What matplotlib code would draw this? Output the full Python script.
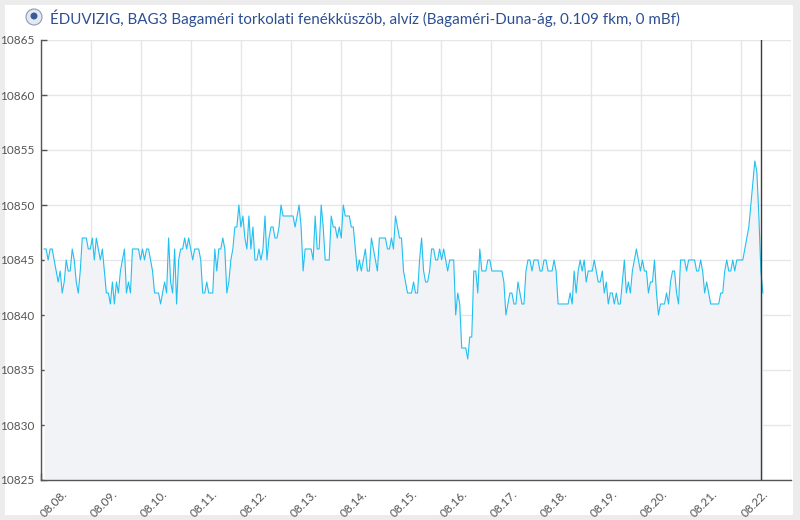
import numpy as np
import pandas as pd
import matplotlib
matplotlib.use("Agg")
import matplotlib.pyplot as plt
from matplotlib.patches import Rectangle, Circle
from matplotlib.transforms import ScaledTranslation

plt.rcParams['font.family'] = ['Lato', 'DejaVu Sans']

# vízállás (cm), kb. óránként, 08.08. 01h -> 08.22. 10h
level = [
    46, 46, 45, 46, 46, 45, 44, 43, 44, 42, 43, 45, 44, 44, 46, 45, 43, 42, 44, 47,
    47, 47, 46, 46, 47, 45, 47, 46, 45, 46, 44, 42, 42, 41, 43, 41, 43, 42, 44, 45,
    46, 42, 43, 42, 46, 46, 46, 46, 45, 46,
    45, 46, 46, 45, 44, 42, 42, 42, 41, 42, 43, 42, 47, 43, 42, 46, 41, 45, 46, 46,
    47, 46, 47, 46, 45, 46, 46, 46, 45, 42, 42, 43, 42, 42, 42, 46, 44, 46, 46, 47,
    46, 42, 43, 45, 46, 48, 48, 50, 48, 49, 47,
    46, 49, 46, 48, 45, 45, 46, 45, 46, 49, 45, 47, 48, 48, 47, 47, 48, 50, 49, 49,
    49, 49, 49, 49, 48, 49, 50, 48, 44, 46, 46, 46, 46, 45, 49, 46, 46, 50, 48, 45,
    45, 45, 49, 48, 48, 47, 48, 47, 50, 49, 49,
    49, 48, 48, 46, 44, 45, 44, 45, 46, 44, 44, 47, 46, 45, 44, 47, 47, 47, 47, 46,
    46, 47, 46, 49, 48, 47, 47, 44, 43, 42, 42, 42, 43, 42, 42, 45, 47, 44, 43, 43,
    44, 46, 46, 45, 45, 46, 45, 46, 45, 44, 45, 45,
    45, 40, 42, 41, 37, 37, 37, 36, 38, 38, 44, 44, 42, 46, 44, 44, 44, 45, 45, 44,
    44, 44, 44, 44, 44, 43, 40, 41, 42, 42, 41, 41, 43, 42, 41, 41, 44, 45, 45, 44,
    45, 45, 45, 44, 44, 45, 45, 44, 44, 44, 45, 44, 41,
    41, 41, 41, 41, 41, 42, 41, 44, 42, 44, 45, 44, 45, 43, 44, 44, 44, 45, 44, 43,
    43, 44, 42, 43, 41, 42, 42, 41, 42, 41, 41, 43, 45, 42, 43, 42, 44, 45, 46, 45,
    44, 45, 44, 44, 42, 43, 43, 45, 42, 40, 41,
    41, 41, 42, 41, 43, 44, 44, 42, 41, 45, 45, 45, 44, 45, 45, 45, 45, 44, 44, 45,
    44, 42, 43, 42, 41, 41, 41, 41, 41, 42, 42, 44, 45, 44, 44, 45, 44, 45, 45, 45,
    45, 46, 47, 48, 50, 52, 54, 53, 49, 44, 42,
]
values = 10800 + np.array(level)
t_start = pd.Timestamp("2023-08-08 01:30")
t_end = pd.Timestamp("2023-08-22 10:30")
times = pd.date_range(t_start, t_end, periods=len(values))
now = pd.Timestamp("2023-08-22 09:30")

days = pd.date_range("2023-08-08", "2023-08-22", freq="D")
day_labels = [d.strftime("%m.%d.") for d in days]
y_ticks = list(range(10825, 10866, 5))

fig = plt.figure(figsize=(8, 5.2), dpi=100, facecolor="#ececec")
fig.patches.append(Rectangle((5 / 800, 5 / 520), 788 / 800, 510 / 520,
                             transform=fig.transFigure, facecolor="white",
                             edgecolor="none", zorder=-5))

ax = fig.add_axes([41 / 800, 40 / 520, 750 / 800, 440 / 520])
ax.set_zorder(2)
ax.set_facecolor("white")

ax.fill_between(times, values, 10825, color="#f2f3f7", lw=0, zorder=1)
ax.plot(times, values, color="#22c0f0", lw=0.8, zorder=3)
ax.axvline(now, color="#3a3a3a", lw=1.0, zorder=4)
ax.axvline(pd.Timestamp("2023-08-23"), color="#e6e6e6", lw=1.0, zorder=0.5)

ax.set_xlim(pd.Timestamp("2023-08-08"), pd.Timestamp("2023-08-23"))
ax.set_ylim(10825, 10865)
ax.set_xticks(days)
ax.set_xticklabels(day_labels)
ax.set_yticks(y_ticks)
ax.grid(True, color="#e6e6e6", lw=1.0, zorder=0.5)
ax.set_axisbelow(True)

for s in ["top", "right"]:
    ax.spines[s].set_visible(False)
for s in ["left", "bottom"]:
    ax.spines[s].set_color("#555555")
    ax.spines[s].set_linewidth(1.0)

ax.tick_params(axis="y", direction="in", length=4, width=1, color="#555555",
               labelcolor="#555555", labelsize=8.5, pad=5)
ax.tick_params(axis="x", direction="in", length=5, width=1, color="#555555",
               labelcolor="#555555", labelsize=8.5, pad=6)
shift = ScaledTranslation(21 / 100, 0, fig.dpi_scale_trans)
for lab in ax.get_xticklabels():
    lab.set_rotation(45)
    lab.set_ha("right")
    lab.set_va("top")
    lab.set_rotation_mode("anchor")
    lab.set_transform(lab.get_transform() + shift)

# logo + cím
px = fig.dpi_scale_trans
fig.patches.append(Circle((34 / 100, (520 - 17) / 100), 8 / 100, transform=px,
                          facecolor="#e4e9f1", edgecolor="#8a9bb5", lw=0.8, zorder=2))
fig.patches.append(Circle((34 / 100, (520 - 16) / 100), 3.5 / 100, transform=px,
                          facecolor="#3a5a96", edgecolor="none", zorder=3))
fig.text(50 / 800, 1 - 18 / 520,
         "ÉDUVIZIG, BAG3 Bagaméri torkolati fenékküszöb, alvíz (Bagaméri-Duna-ág, 0.109 fkm, 0 mBf)",
         color="#2d4f92", fontsize=10.9, ha="left", va="center")

fig.savefig("out.png", dpi=100, facecolor=fig.get_facecolor())
